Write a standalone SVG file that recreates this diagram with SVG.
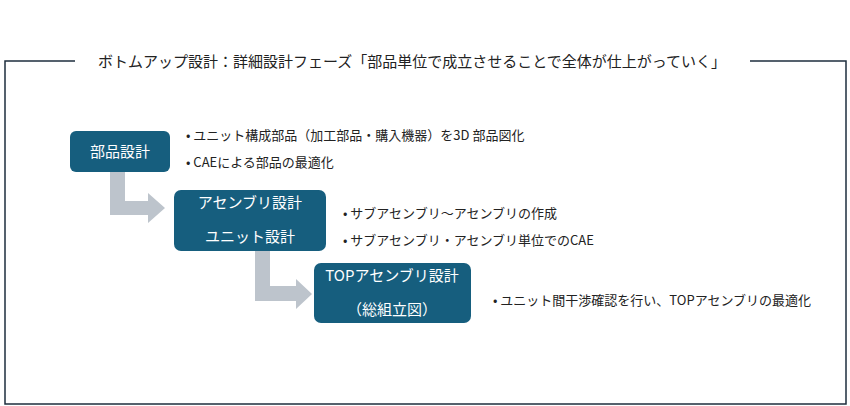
<svg xmlns="http://www.w3.org/2000/svg" width="850" height="406" viewBox="0 0 850 406">
<style>
text{font-family:"Noto Sans CJK JP","Noto Sans",sans-serif;font-size:13px;fill:#222}
.box{fill:#165E7E}
.bt{fill:#fff;font-size:15px;text-anchor:middle}
.arr{fill:#BDC4CC}
</style>
<rect width="850" height="406" fill="#fff"/>
<g id="frame" fill="none" stroke="#1e2e3e" stroke-width="1.5">
<polyline points="75,61 5,61 5,404 846,404 846,61 750,61"/>
</g>
<text x="412" y="67" text-anchor="middle" style="font-size:15px">ボトムアップ設計：詳細設計フェーズ「部品単位で成立させることで全体が仕上がっていく」</text>
<g id="connectors">
<path class="arr" d="M110,172 H125 V201 H148 V193 L165,208 L148,223 V215 H110 Z"/>
<path class="arr" d="M255,251 H270 V286 H296 V279 L312,294 L296,309 V301 H255 Z"/>
</g>
<g id="n1"><rect class="box" x="70" y="131" width="100" height="41" rx="6"/><text class="bt" x="120" y="157">部品設計</text></g>
<g id="n2"><rect class="box" x="174" y="190" width="152" height="61" rx="7"/><text class="bt" x="250" y="208">アセンブリ設計</text><text class="bt" x="250" y="242">ユニット設計</text></g>
<g id="n3"><rect class="box" x="314" y="263" width="157" height="60" rx="7"/><text class="bt" x="392" y="281">TOPアセンブリ設計</text><text class="bt" x="392" y="315">（総組立図）</text></g>
<g id="notes">
<text x="186" y="140">• ユニット構成部品（加工部品・購入機器）を3D 部品図化</text>
<text x="186" y="167">• CAEによる部品の最適化</text>
<text x="343" y="218">• サブアセンブリ～アセンブリの作成</text>
<text x="343" y="245">• サブアセンブリ・アセンブリ単位でのCAE</text>
<text x="493" y="305">• ユニット間干渉確認を行い、TOPアセンブリの最適化</text>
</g>
</svg>
